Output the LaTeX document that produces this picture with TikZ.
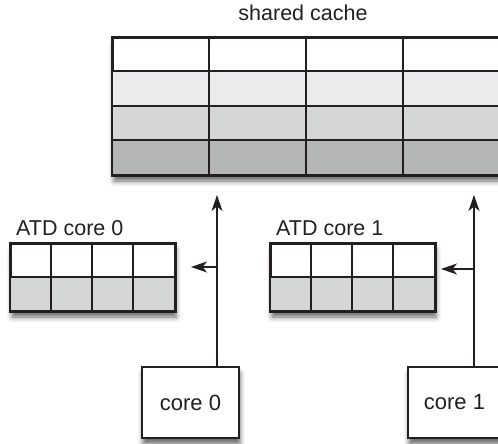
\documentclass[tikz,border=0pt]{standalone}
\usepackage{fontspec}
\setmainfont{Liberation Sans}
\usetikzlibrary{arrows.meta,shadows.blur,calc}
\definecolor{ink}{HTML}{231F20}
\definecolor{rowa}{HTML}{EBEBED}
\definecolor{rowb}{HTML}{D5D6D8}
\definecolor{rowc}{HTML}{B4B5B7}
\tikzset{
  shad/.style={blur shadow={shadow xshift=1pt, shadow yshift=-6pt, shadow blur radius=5pt, shadow opacity=60}},
  boxframe/.style={draw=ink, line width=2pt, fill=white, inner sep=0pt},
  cellline/.style={draw=ink, line width=2pt},
  arr/.style={draw=ink, line width=1.5pt, -{Stealth[length=16pt,width=11pt,inset=4.5pt]}},
  lbl/.style={font=\fontsize{21.5}{25}\selectfont, text=ink, inner sep=0pt},
  corebox/.style={boxframe, shad, minimum width=97pt, minimum height=71pt, anchor=north west, font=\fontsize{22}{26}\selectfont, text=ink}
}
\begin{document}
\begin{tikzpicture}[x=1pt,y=-1pt]
\useasboundingbox (0,0) rectangle (498,444);
\clip (0,0) rectangle (498,444);

% shared cache
\node[lbl] (tcache) at (303,13) {shared cache};
\node[boxframe, shad, minimum width=388pt, minimum height=137pt, anchor=north west] (cache) at (112,37) {};
\fill[rowa] (112,71.25) rectangle (500,105.5);
\fill[rowb] (112,105.5) rectangle (500,139.75);
\fill[rowc] (112,139.75) rectangle (500,174);
\foreach \i in {1,2,3} {
  \draw[cellline] (112,{37+\i*34.25}) -- (500,{37+\i*34.25});
  \draw[cellline] ({112+\i*97},37) -- ({112+\i*97},174);
}
\draw[cellline] (cache.north west) rectangle (cache.south east);

% ATD core 0
\node[lbl, anchor=west] (tatd0) at (16,228) {ATD core 0};
\node[boxframe, shad, minimum width=164pt, minimum height=67pt, anchor=north west] (atd0) at (10,243) {};
\fill[rowb] (10,276.5) rectangle (174,310);
\draw[cellline] (10,276.5) -- (174,276.5);
\foreach \i in {1,2,3} \draw[cellline] ({10+\i*41},243) -- ({10+\i*41},310);
\draw[cellline] (atd0.north west) rectangle (atd0.south east);

% ATD core 1
\node[lbl, anchor=west] (tatd1) at (276,228) {ATD core 1};
\node[boxframe, shad, minimum width=164pt, minimum height=67pt, anchor=north west] (atd1) at (270,243) {};
\fill[rowb] (270,276.5) rectangle (434,310);
\draw[cellline] (270,276.5) -- (434,276.5);
\foreach \i in {1,2,3} \draw[cellline] ({270+\i*41},243) -- ({270+\i*41},310);
\draw[cellline] (atd1.north west) rectangle (atd1.south east);

% cores
\node[corebox] (core0) at (141,366) {core 0};
\node[corebox] (core1) at (407,366) {\hspace*{-4pt}core 1};

% connectors
\coordinate (c0base) at (217,366);
\coordinate (c0tip) at (217,195);
\coordinate (c0j) at (217,267);
\coordinate (a0tip) at ($(atd0.east |- c0j)+(15,0)$);
\draw[arr] (c0base) -- (c0tip);
\draw[arr] (c0j) -- (a0tip);

\coordinate (c1base) at (474,366);
\coordinate (c1tip) at (474,195);
\coordinate (c1j) at (474,269);
\coordinate (a1tip) at ($(atd1.east |- c1j)+(5,0)$);
\draw[arr] (c1base) -- (c1tip);
\draw[arr] (c1j) -- (a1tip);
\end{tikzpicture}
\end{document}
